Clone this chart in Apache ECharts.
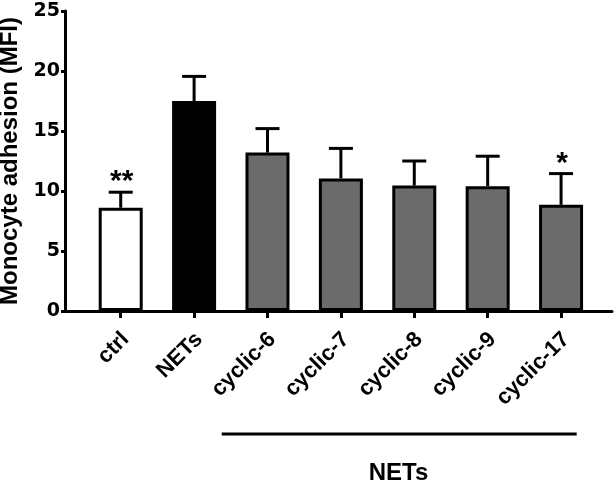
<!DOCTYPE html>
<html>
<head>
<meta charset="utf-8">
<script src="https://cdn.jsdelivr.net/npm/echarts@6/dist/echarts.min.js"></script>
<style>html,body{margin:0;padding:0;background:#fff;}#c{width:615px;height:486px;}</style>
</head>
<body>
<div id="c"></div>
<script>
var categories = ['ctrl', 'NETs', 'cyclic-6', 'cyclic-7', 'cyclic-8', 'cyclic-9', 'cyclic-17'];
var means = [8.6, 17.5, 13.2, 11.05, 10.45, 10.4, 8.85];
var errors = [1.3, 2.05, 2.0, 2.5, 2.05, 2.5, 2.6];
var stars = ['**', '', '', '', '', '', '*'];
var fills = ['#ffffff', '#000000', '#6b6b6b', '#6b6b6b', '#6b6b6b', '#6b6b6b', '#6b6b6b'];
var yTicks = [0, 5, 10, 15, 20, 25];
var groupLabel = 'NETs';

var FONT = '"Liberation Sans", Arial, sans-serif';
var chart = echarts.init(document.getElementById('c'), null, {renderer: 'canvas'});

var barData = means.map(function (v, i) {
  return {value: [i, v], itemStyle: {color: fills[i]}};
});
var errData = means.map(function (v, i) { return [i, v, errors[i]]; });
var catIdx = categories.map(function (c, i) { return i; });

var option = {
  animation: false,
  backgroundColor: '#ffffff',
  grid: {left: 65, right: 3, top: 11, bottom: 175, containLabel: false, outerBoundsMode: 'none'},
  xAxis: {
    type: 'value',
    min: -0.759,
    max: 6.694,
    splitLine: {show: false},
    axisLine: {show: true, onZero: false, lineStyle: {color: '#000', width: 3}},
    axisTick: {show: true, customValues: catIdx, length: 7, lineStyle: {color: '#000', width: 3}},
    axisLabel: {
      customValues: catIdx,
      rotate: 45,
      margin: 20,
      verticalAlign: 'top',
      lineHeight: 14,
      formatter: function (v) { return categories[Math.round(v)]; },
      fontFamily: FONT, fontWeight: 'bold', fontSize: 22, color: '#000'
    }
  },
  yAxis: {
    type: 'value',
    min: yTicks[0],
    max: yTicks[yTicks.length - 1],
    interval: 5,
    name: 'Monocyte adhesion (MFI)',
    nameLocation: 'middle',
    nameGap: 36,
    nameTextStyle: {fontFamily: FONT, fontWeight: 'bold', fontSize: 24, color: '#000'},
    splitLine: {show: false},
    axisLine: {show: true, onZero: false, lineStyle: {color: '#000', width: 3}},
    axisTick: {show: true, length: 4, lineStyle: {color: '#000', width: 3}},
    axisLabel: {margin: 5, fontFamily: '"DejaVu Sans", sans-serif', fontWeight: 'bold', fontSize: 19, color: '#000'}
  },
  series: [
    {
      type: 'bar',
      data: barData,
      barWidth: 44,
      itemStyle: {borderColor: '#000', borderWidth: 3},
      z: 2
    },
    {
      type: 'custom',
      data: errData,
      z: 3,
      renderItem: function (params, api) {
        var x = api.value(0), m = api.value(1), e = api.value(2);
        var p0 = api.coord([x, m]);
        var p1 = api.coord([x, m + e]);
        var hw = 12;
        var children = [
          {type: 'line', shape: {x1: p0[0], y1: p0[1], x2: p1[0], y2: p1[1]}, style: {stroke: '#000', lineWidth: 3}},
          {type: 'line', shape: {x1: p1[0] - hw, y1: p1[1], x2: p1[0] + hw, y2: p1[1]}, style: {stroke: '#000', lineWidth: 3}}
        ];
        var s = stars[params.dataIndex];
        if (s) {
          children.push({type: 'text', x: p1[0] + 1, y: p1[1] + 5, style: {text: s, fill: '#000', font: 'bold 30px ' + FONT, align: 'center', verticalAlign: 'bottom'}});
        }
        return {type: 'group', children: children};
      }
    }
  ]
};
chart.setOption(option);

// group bracket under the cyclic peptides
var pL = chart.convertToPixel({xAxisIndex: 0, yAxisIndex: 0}, [1.376, 0]);
var pR = chart.convertToPixel({xAxisIndex: 0, yAxisIndex: 0}, [6.213, 0]);
var pM = chart.convertToPixel({xAxisIndex: 0, yAxisIndex: 0}, [3.785, 0]);
chart.setOption({
  graphic: [
    {type: 'line', shape: {x1: pL[0], y1: 434, x2: pR[0], y2: 434}, style: {stroke: '#000', lineWidth: 3}},
    {type: 'text', x: pM[0], y: 473, style: {text: groupLabel, fill: '#000', font: 'bold 24px ' + FONT, align: 'center', verticalAlign: 'middle'}}
  ]
});
</script>
</body>
</html>
